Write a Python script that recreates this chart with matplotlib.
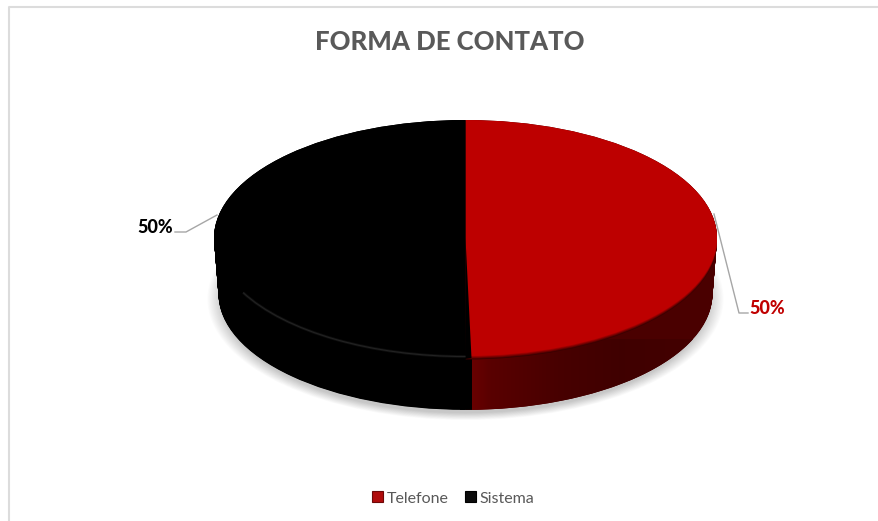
"""Forma de contato: 3D looking pie drawn with stacked ax.pie layers."""

import numpy as np
from matplotlib import pyplot as plt
from matplotlib.colors import to_rgb
from matplotlib.patches import Arc, Ellipse, Patch, Polygon

categories = ["Telefone", "Sistema"]
values = [50, 50]
top_colors = ["#bd0000", "#000000"]
side_colors = ["#4a0000", "#000000"]
legend_colors = ["#b00c0c", "#0c0c0c"]
legend_edges = ["#6e0808", "#000000"]
label_colors = ["#c00000", "#000000"]
title = "FORMA DE CONTATO"

W, H = 879, 521
CX, CY, A, B = 465.5, 238.0, 251.5, 118.0
DEPTH = 56
SIDE_SCALE = 0.982


def ux(x):
    return (x - CX) / A


def uy(y):
    return (CY - y) / B


plt.rcParams["font.family"] = ["Lato", "DejaVu Sans"]
fig = plt.figure(figsize=(W / 100, H / 100), dpi=100)
ax = fig.add_axes([0, 0, 1, 1])

# chart area border, only top and left show
ax.plot([ux(9), ux(9), ux(W)], [uy(H), uy(7.5), uy(7.5)], color="#dcdcdc", lw=1.5, zorder=0)

# soft shadow under the disc
for r in np.linspace(1.045, 0.985, 14):
    ax.add_patch(Ellipse((0, uy(CY + DEPTH + 5)), 2 * r * SIDE_SCALE, 2 * r * SIDE_SCALE,
                         color="black", alpha=0.016, lw=0, zorder=1))

# side wall, stack of pies going up
for k in np.linspace(DEPTH, 0, DEPTH * 2):
    radius = 1 - (1 - SIDE_SCALE) * k / DEPTH
    ax.pie(values, colors=side_colors, radius=radius, center=(0, -k / B), startangle=90,
           counterclock=False, wedgeprops={"lw": 0, "zorder": 2})

# shading on the red wall
theta = np.radians(np.linspace(-100, 0, 80))
top_edge = np.c_[np.cos(theta), np.sin(theta)]
low_edge = np.c_[SIDE_SCALE * np.cos(theta), SIDE_SCALE * np.sin(theta) - DEPTH / B]
front = Polygon(np.r_[top_edge, low_edge[::-1]], transform=ax.transData, fc="none", lw=0)
ax.add_patch(front)
xs = np.arange(460, 720)
shade = np.zeros((1, len(xs), 3))
shade[0, :, 0] = np.interp(xs, [471, 472, 490, 560, 620, 720], [0, 0.41, 0.35, 0.28, 0.25, 0.27])
im = ax.imshow(shade, extent=[ux(460), ux(720), uy(415), uy(340)], aspect="auto", zorder=3)
im.set_clip_path(front)

# top face, layers shifted down so the dark rim only shows at the front
for i, f in enumerate(np.linspace(0.3, 1, 6)):
    rim = [np.array(to_rgb(c)) * f for c in top_colors]
    ax.pie(values, colors=rim, center=(0, -(5 - i) * 0.006), startangle=90, counterclock=False,
           wedgeprops={"lw": 0, "zorder": 4 + i * 0.1})

# the divider bends a little towards the front
ax.add_patch(Polygon([(ux(465.5), uy(238)), (ux(471.5), uy(358)), (ux(465), uy(359))],
                     fc="black", lw=0, zorder=5))

# faint highlight on the black front edge
for lw, shade_col in [(2.0, "#0e0e0e"), (0.8, "#222222")]:
    ax.add_patch(Arc((0, -0.012), 1.985, 1.985, theta1=207, theta2=270, color=shade_col, lw=lw, zorder=6))

# leader lines
ax.plot([ux(175), ux(186), ux(217)], [uy(232), uy(232), uy(215)], color="#a6a6a6", lw=1, zorder=6)
ax.plot([ux(714), ux(739), ux(748)], [uy(214), uy(313), uy(313)], color="#a6a6a6", lw=1, zorder=6)

ax.text(ux(155), uy(227.5), f"{values[1]}%", color=label_colors[1], fontsize=13, fontweight="black",
        ha="center", va="center")
ax.text(ux(767.5), uy(308.5), f"{values[0]}%", color=label_colors[0], fontsize=13, fontweight="black",
        ha="center", va="center")
ax.text(ux(450), uy(42), title, color="#595959", fontsize=18.5, fontweight="black",
        ha="center", va="center")

handles = [Patch(facecolor=c, edgecolor=e, lw=0.8, label=n)
           for c, e, n in zip(legend_colors, legend_edges, categories)]
ax.legend(handles=handles, loc="center", bbox_to_anchor=(453 / W, 1 - 498.5 / H), ncol=2, frameon=False,
          fontsize=11.5, labelcolor="#595959", handlelength=0.68, handleheight=0.68,
          handletextpad=0.22, columnspacing=1.05)

ax.set_aspect("auto")
ax.set_xlim(ux(0), ux(W))
ax.set_ylim(uy(H), uy(0))
ax.axis("off")
fig.savefig("out.png", dpi=100)
